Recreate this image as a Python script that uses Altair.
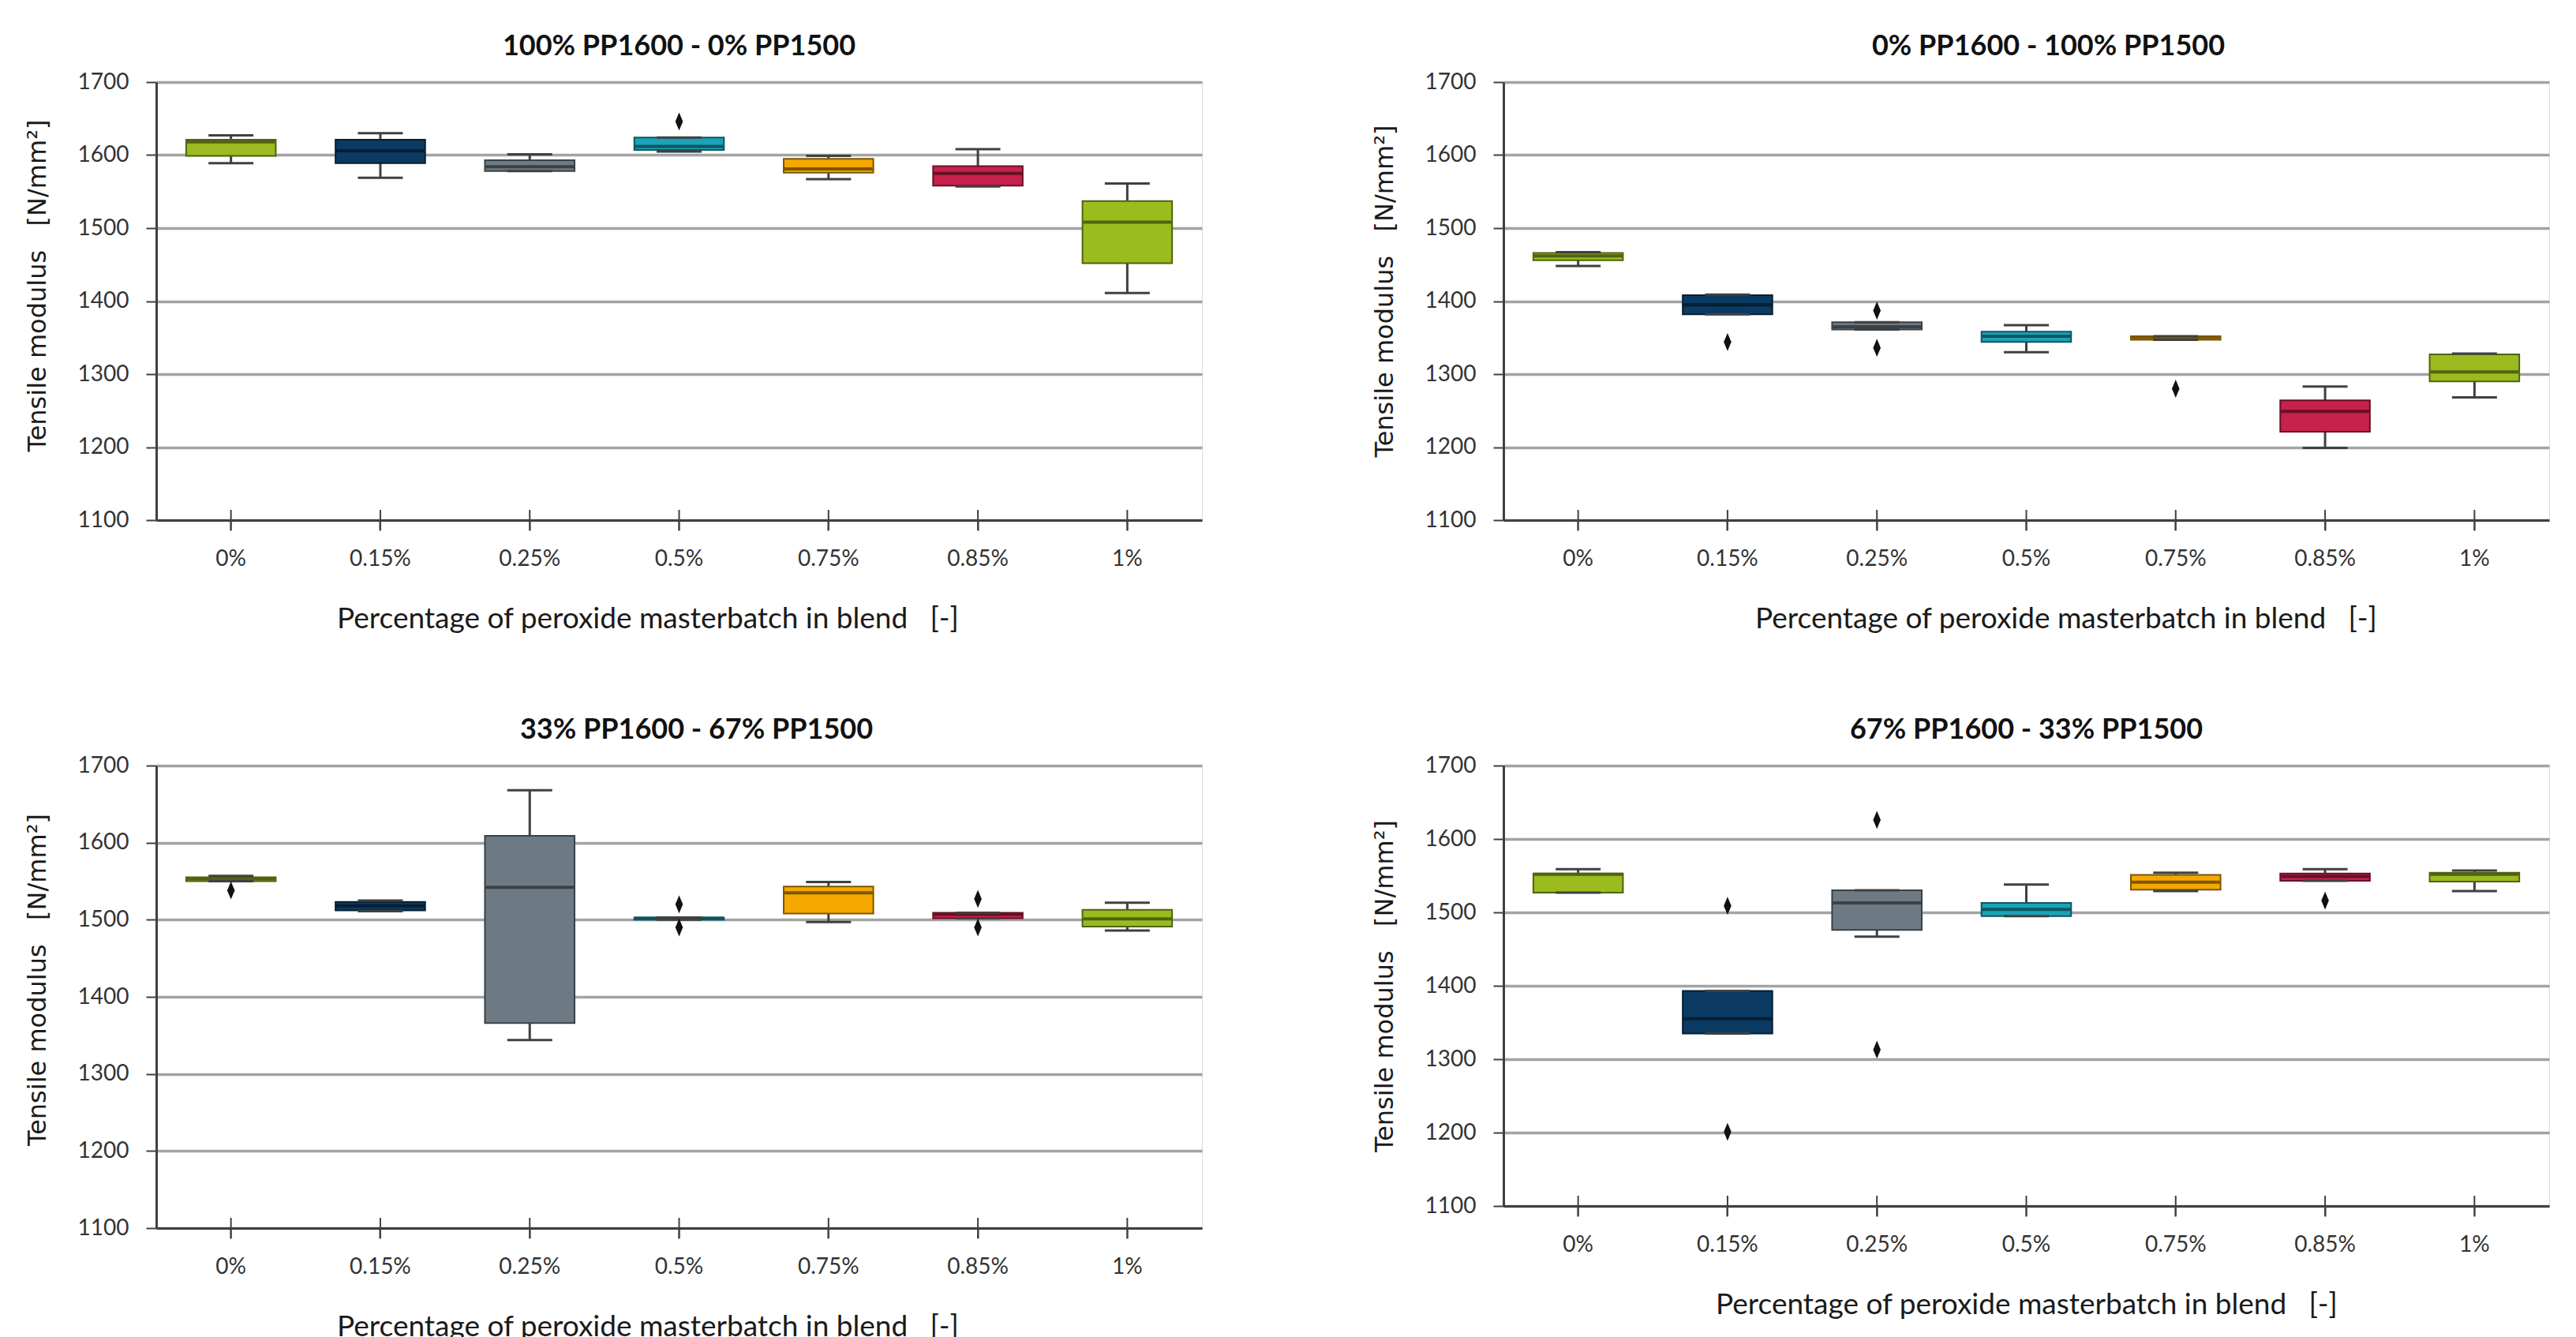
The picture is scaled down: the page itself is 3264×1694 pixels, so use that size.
import altair as alt
import pandas as pd

cats = ["0%", "0.15%", "0.25%", "0.5%", "0.75%", "0.85%", "1%"]
fills = ["#9BBB1F", "#0B3A62", "#6E7A83", "#1BA3B7", "#F6A800", "#C7214C", "#9BBB1F"]
edges = ["#4F6310", "#061E33", "#3A4146", "#0E5561", "#7D5600", "#661127", "#4F6310"]

# 100% PP1600 - 0% PP1500
a_lo = [1589, 1569, 1578, 1605, 1567, 1557, 1411]
a_q1 = [1599, 1589, 1578, 1607, 1576, 1558, 1452]
a_med = [1618, 1606, 1584, 1612, 1581, 1575, 1508]
a_q3 = [1621, 1621, 1593, 1624, 1595, 1585, 1537]
a_hi = [1627, 1630, 1601, 1624, 1599, 1608, 1561]
a_out_cat = ["0.5%"]
a_out = [1646]

# 0% PP1600 - 100% PP1500
b_lo = [1448, 1382, 1361, 1330, 1347, 1199, 1268]
b_q1 = [1456, 1382, 1361, 1344, 1347, 1221, 1290]
b_med = [1462, 1395, 1365, 1352, 1350, 1249, 1303]
b_q3 = [1466, 1408, 1371, 1358, 1352, 1264, 1327]
b_hi = [1467, 1409, 1371, 1367, 1352, 1283, 1328]
b_out_cat = ["0.15%", "0.25%", "0.25%", "0.75%"]
b_out = [1344, 1387, 1336, 1280]

# 33% PP1600 - 67% PP1500
c_lo = [1550, 1511, 1344, 1500, 1497, 1502, 1486]
c_q1 = [1550, 1512, 1366, 1500, 1508, 1502, 1491]
c_med = [1553, 1518, 1542, 1502, 1535, 1507, 1501]
c_q3 = [1555, 1523, 1609, 1503, 1543, 1509, 1513]
c_hi = [1557, 1525, 1668, 1503, 1549, 1509, 1522]
c_out_cat = ["0%", "0.5%", "0.5%", "0.85%", "0.85%"]
c_out = [1538, 1520, 1490, 1527, 1490]

# 67% PP1600 - 33% PP1500
d_lo = [1527, 1335, 1467, 1495, 1529, 1543, 1529]
d_q1 = [1527, 1335, 1476, 1495, 1531, 1543, 1542]
d_med = [1552, 1355, 1513, 1504, 1541, 1549, 1552]
d_q3 = [1553, 1393, 1530, 1513, 1551, 1553, 1554]
d_hi = [1559, 1393, 1530, 1538, 1554, 1559, 1557]
d_out_cat = ["0.15%", "0.15%", "0.25%", "0.25%", "0.85%"]
d_out = [1509, 1201, 1626, 1313, 1516]

y_ticks = [1100, 1200, 1300, 1400, 1500, 1600, 1700]

LABEL_FONT = "Lato"
NB = "\u00a0"
X_TITLE = "Percentage of peroxide masterbatch in blend" + NB * 3 + "[-]"
Y_TITLE = "Tensile modulus" + NB * 3 + "[N/mm²]"
DIAMOND = "M0,-1L0.42,0L0,1L-0.42,0Z"
W = 1325


def panel(title, lo, q1, med, q3, hi, out_cat, out_val, height,
          title_dx=0, xt_dx=0, yt_dy=0):
    df = pd.DataFrame({"cat": cats, "lo": lo, "q1": q1, "med": med, "q3": q3, "hi": hi})
    outs = pd.DataFrame({"cat": out_cat, "val": out_val})

    x = alt.X(
        "cat:N", sort=cats,
        scale=alt.Scale(domain=cats, paddingInner=0, paddingOuter=0),
        axis=alt.Axis(
            title=X_TITLE, labelAngle=0, labelFont=LABEL_FONT, labelFontSize=28,
            labelColor="#333333", labelPadding=22, tickSize=13, tickWidth=2,
            tickColor="#404040", domainColor="#404040", domainWidth=3,
            titleFont=LABEL_FONT, titleFontSize=37, titleFontWeight="normal",
            titleColor="#1a1a1a", titlePadding=44, titleX=W / 2 + xt_dx,
        ),
    )
    yscale = alt.Scale(domain=[1100, 1700], nice=False, zero=False)
    y_axis = alt.Axis(
        values=y_ticks, format="d", title=Y_TITLE, grid=True, gridColor="#A3A3A3",
        gridWidth=3.5, labelFont=LABEL_FONT, labelFontSize=28, labelColor="#333333",
        labelPadding=22, tickSize=13, tickWidth=2, tickColor="#404040",
        domainColor="#404040", domainWidth=3, titleFont="DejaVu Sans",
        titleFontSize=32, titleFontWeight="normal", titleColor="#1a1a1a",
        titlePadding=34, titleY=height / 2 + yt_dy,
    )
    fill = alt.Color("cat:N", scale=alt.Scale(domain=cats, range=fills), legend=None)
    edge = alt.Stroke("cat:N", scale=alt.Scale(domain=cats, range=edges), legend=None)
    edge_f = alt.Fill("cat:N", scale=alt.Scale(domain=cats, range=edges), legend=None)

    base = alt.Chart(df).encode(x=x)
    whisker = base.mark_rule(color="#404040", strokeWidth=3).encode(
        y=alt.Y("lo:Q", scale=yscale, axis=y_axis), y2="hi:Q"
    )
    box = base.mark_bar(width={"band": 0.6}, strokeWidth=2).encode(
        y="q1:Q", y2="q3:Q", color=fill, stroke=edge
    )
    median = base.mark_tick(size=112, thickness=4, opacity=1).encode(y="med:Q", fill=edge_f)
    cap_lo = base.mark_tick(size=57, thickness=3, color="#404040", opacity=1).encode(y="lo:Q")
    cap_hi = base.mark_tick(size=57, thickness=3, color="#404040", opacity=1).encode(y="hi:Q")
    cross = base.mark_tick(orient="vertical", size=26, thickness=2, color="#404040",
                           opacity=1).encode(y=alt.datum(1100))
    points = alt.Chart(outs).mark_point(
        shape=DIAMOND, size=520, filled=True, color="#111111", opacity=1
    ).encode(x=alt.X("cat:N", sort=cats), y="val:Q")

    return alt.layer(whisker, box, median, cap_lo, cap_hi, cross, points).properties(
        width=W, height=height,
        title=alt.Title(title, font=LABEL_FONT, fontSize=36, fontWeight="bold",
                        color="#111111", offset=12, dx=title_dx),
    )


p1 = panel("100% PP1600 - 0% PP1500", a_lo, a_q1, a_med, a_q3, a_hi, a_out_cat, a_out,
           555, title_dx=0, xt_dx=-40, yt_dy=-20)
p2 = panel("0% PP1600 - 100% PP1500", b_lo, b_q1, b_med, b_q3, b_hi, b_out_cat, b_out,
           555, title_dx=28, xt_dx=50, yt_dy=-13)
p3 = panel("33% PP1600 - 67% PP1500", c_lo, c_q1, c_med, c_q3, c_hi, c_out_cat, c_out,
           586, title_dx=22, xt_dx=-40, yt_dy=-22)
p4 = panel("67% PP1600 - 33% PP1500", d_lo, d_q1, d_med, d_q3, d_hi, d_out_cat, d_out,
           558, title_dx=0, xt_dx=0, yt_dy=0)

chart = alt.vconcat(
    alt.hconcat(p1, p2, spacing=213),
    alt.hconcat(p3, p4, spacing=213),
    spacing=103,
).properties(
    padding={"left": 22, "top": 32, "right": 0, "bottom": 0}
).configure_view(
    stroke="#7F7F7F", strokeWidth=3
).configure(background="white")

chart.save("out.html", embed_options={"renderer": "svg", "actions": False})
